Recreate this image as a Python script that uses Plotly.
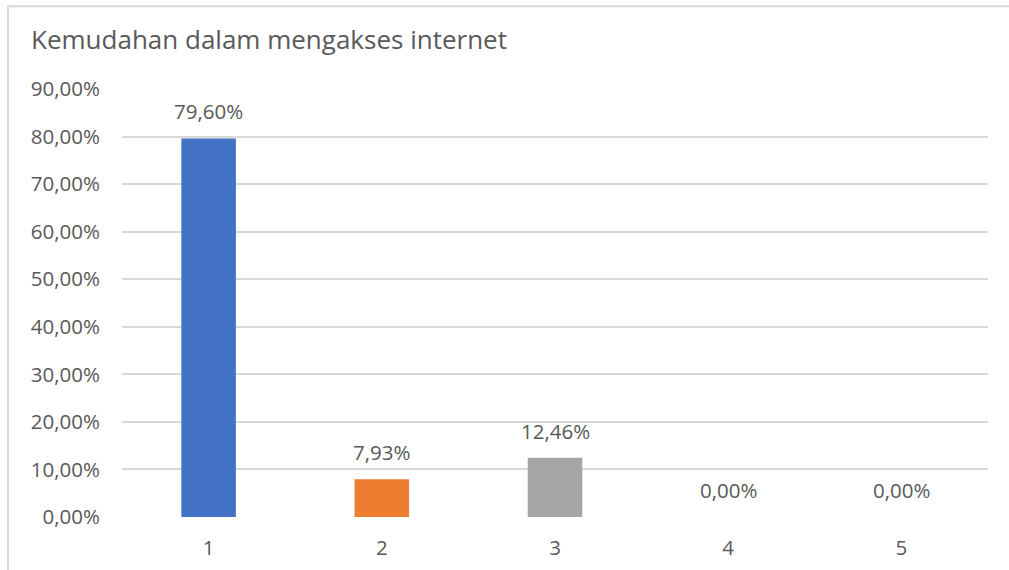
import plotly.graph_objects as go

categories = ["1", "2", "3", "4", "5"]
values = [79.60, 7.93, 12.46, 0.00, 0.00]
labels = ["79,60%", "7,93%", "12,46%", "0,00%", "0,00%"]
colors = ["#4472C4", "#ED7D31", "#A5A5A5", "#FFC000", "#5B9BD5"]
tick_vals = [0, 10, 20, 30, 40, 50, 60, 70, 80, 90]
tick_text = ["0,00%", "10,00%", "20,00%", "30,00%", "40,00%", "50,00%",
             "60,00%", "70,00%", "80,00%", "90,00%"]
title_text = "Kemudahan dalam mengakses internet"

FONT = "Open Sans"
TXT = "#595959"
GRID = "#D9D9D9"

W, H = 1009, 570
ml, mr, mt, mb = 122, 21, 88.5, 53.3

fig = go.Figure()
fig.add_trace(go.Bar(
    x=categories, y=values,
    marker=dict(color=colors, line=dict(width=0)),
    hoverinfo="skip",
))

for i, (v, t) in enumerate(zip(values, labels)):
    fig.add_annotation(x=i, y=v, text=t, showarrow=False, yanchor="bottom",
                       yshift=11, font=dict(family=FONT, size=20.5, color=TXT))

pw = W - ml - mr
ph = H - mt - mb
fig.add_shape(type="rect", xref="paper", yref="paper",
              x0=(8 - ml) / pw, x1=1.1,
              y0=-0.3, y1=(H - mb - 5.7) / ph,
              line=dict(color=GRID, width=2), layer="below")

fig.update_layout(
    width=W, height=H,
    margin=dict(l=ml, r=mr, t=mt, b=mb, autoexpand=False),
    paper_bgcolor="white", plot_bgcolor="white",
    bargap=0.685,
    showlegend=False,
    title=dict(text=title_text, xref="container", yref="container",
               x=31 / W, xanchor="left", y=1 - 40 / H, yanchor="middle",
               font=dict(family=FONT, size=26, color=TXT)),
    xaxis=dict(type="category", showgrid=False, zeroline=False, showline=False,
               ticks="", tickfont=dict(family=FONT, size=20.5, color=TXT),
               ticklabelstandoff=16, automargin=False),
    yaxis=dict(range=[0, 90], tickvals=tick_vals, ticktext=tick_text,
               showgrid=True, gridcolor=GRID, gridwidth=1.5,
               zeroline=False, showline=False, ticks="",
               tickfont=dict(family=FONT, size=20.5, color=TXT),
               ticklabelstandoff=21, automargin=False),
)

fig.write_html("out.html",
               config={"displayModeBar": False},
               post_script="document.body.style.margin='0px';"
                           "document.body.style.overflow='hidden';")
